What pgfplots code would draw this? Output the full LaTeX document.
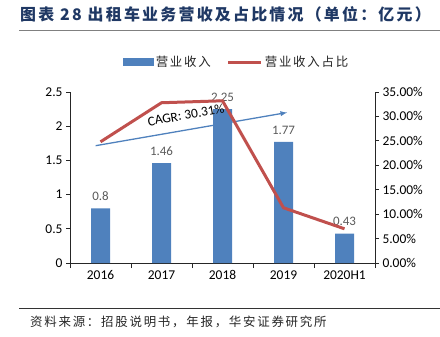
\documentclass[border=0pt]{standalone}
\usepackage{fontspec}
\setmainfont{Carlito}
\newfontfamily\cjk{Noto Sans CJK SC}
\newfontfamily\cjkls[LetterSpace=14]{Noto Sans CJK SC}
\newfontfamily\cjkt[LetterSpace=14]{Noto Sans CJK SC}
\usepackage{pgfplots}
\pgfplotsset{compat=1.18}
\definecolor{barblue}{HTML}{4F81BD}
\definecolor{linered}{HTML}{C0504D}
\definecolor{titleblue}{HTML}{1F3864}
\definecolor{lbl}{HTML}{595959}
\begin{document}
\begin{tikzpicture}[x=1bp,y=1bp]
\path[use as bounding box] (0,0) rectangle (440,336);
\node[anchor=west, inner sep=0, font=\fontsize{16}{16}\selectfont\cjkt\bfseries, text=titleblue] at (20,322) {图表 28 出租车业务营收及占比情况（单位：亿元）};
\draw[gray, line width=1.3bp] (19,305.5) -- (440,305.5);
\draw[black!80, line width=0.8bp] (19,28) -- (440,28);
\node[anchor=west, inner sep=0, font=\fontsize{12.5}{13}\selectfont\cjkls, text=black!85] at (30,14.5) {资料来源：招股说明书，年报，华安证券研究所};

\begin{axis}[
  at={(70bp,73bp)}, anchor=south west, scale only axis,
  width=305bp, height=171bp,
  xmin=-0.5, xmax=4.5, ymin=0, ymax=2.5,
  axis y line*=left, axis x line*=bottom,
  axis line style={black!85, line width=0.8bp},
  xtick={0,...,4}, xticklabels={2016,2017,2018,2019,2020H1},
  major x tick style={draw=none},
  minor xtick={-0.5,0.5,1.5,2.5,3.5,4.5},
  minor x tick style={black!85, line width=0.8bp},
  minor tick length=5bp,
  ytick={0,0.5,1,1.5,2,2.5},
  yticklabels={0,0.5,1,1.5,2,2.5},
  major y tick style={black!85, line width=0.8bp},
  major tick length=4bp,
  tick align=outside,
  ticklabel style={font=\fontsize{13.5}{14}\selectfont, text=black},
  /pgf/number format/assume math mode=true,
  clip=false,
]
\addplot[ybar, bar width=19bp, fill=barblue, draw=none,
  nodes near coords, nodes near coords style={font=\fontsize{13}{14}\selectfont, text=lbl, yshift=4bp},
  point meta=explicit symbolic]
  coordinates {(0,0.8) [0.8] (1,1.46) [1.46] (2,2.25) [2.25] (3,1.77) [1.77] (4,0.43) [0.43]};
\addplot[->, >=latex, barblue, line width=1.3bp] coordinates {(-0.08,1.715) (3.06,2.2)};
\end{axis}

\begin{axis}[
  at={(70bp,73bp)}, anchor=south west, scale only axis,
  width=305bp, height=171bp,
  xmin=-0.5, xmax=4.5, ymin=0, ymax=35,
  axis y line*=right, axis x line=none,
  axis line style={black!85, line width=0.8bp},
  ytick={0,5,...,35},
  yticklabel={\pgfmathprintnumber[fixed,fixed zerofill,precision=2]{\tick}\%},
  major y tick style={black!85, line width=0.8bp},
  major tick length=4bp,
  tick align=outside,
  ticklabel style={font=\fontsize{13.5}{14}\selectfont, text=black},
  /pgf/number format/assume math mode=true,
  clip=false,
  legend columns=2,
  legend style={at={(0.547,1.175)}, anchor=center, draw=none, fill=none,
    font=\fontsize{12.5}{13}\selectfont\cjkls, text=black!85,
    /tikz/every even column/.append style={column sep=14bp}},
]
\addlegendimage{legend image code/.code={\fill[barblue] (0bp,-3.5bp) rectangle (30bp,3.5bp);}}
\addlegendentry{营业收入}
\addplot[linered, line width=3bp, legend image code/.code={\draw[linered, line width=3bp] (0bp,0bp) -- (33bp,0bp);}]
  coordinates {(0,24.8) (1,32.8) (2,33.2) (3,11.3) (4,7.0)};
\addlegendentry{营业收入占比}
\node[rotate=10, font=\fontsize{13.5}{14}\selectfont, text=black] at (axis cs:1.40,30.3) {CAGR: 30.31\%};
\end{axis}
\end{tikzpicture}
\end{document}
